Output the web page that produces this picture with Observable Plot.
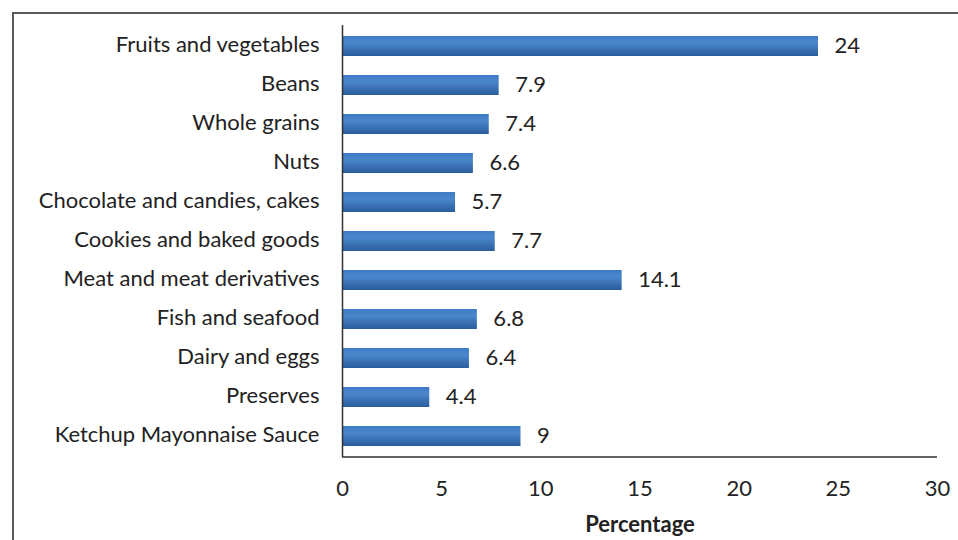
<!DOCTYPE html>
<html><head><meta charset="utf-8">
<script src="https://cdn.jsdelivr.net/npm/d3@7"></script>
<script src="https://cdn.jsdelivr.net/npm/@observablehq/plot@0.6"></script>
<style>
html,body{margin:0;padding:0;background:#fff;overflow:hidden;width:958px;height:540px;}
#wrap{position:relative;width:958px;height:540px;}
#border{position:absolute;left:12px;top:12px;width:1000px;height:600px;border:2px solid #5a5a5a;box-sizing:border-box;}
#chart{position:absolute;left:0;top:0;}
</style></head>
<body><div id="wrap"><div id="border"></div><div id="chart"></div></div>
<script>
const categories = ["Fruits and vegetables","Beans","Whole grains","Nuts","Chocolate and candies, cakes","Cookies and baked goods","Meat and meat derivatives","Fish and seafood","Dairy and eggs","Preserves","Ketchup Mayonnaise Sauce"];
const values = [24,7.9,7.4,6.6,5.7,7.7,14.1,6.8,6.4,4.4,9];
const xTicks = [0,5,10,15,20,25,30];
const xLabel = "Percentage";

const data = categories.map((c,i)=>({category:c, value:values[i]}));
const font = "Lato, 'Open Sans', sans-serif";

const chart = Plot.plot({
  width: 958, height: 540,
  marginLeft: 342, marginRight: 21, marginTop: 25, marginBottom: 83,
  style: {fontFamily: font, fontSize: "22px", color: "#222", background: "transparent"},
  x: {domain:[0,30], ticks: xTicks, label: null},
  y: {domain: categories, paddingInner: 0.5, paddingOuter: 0.25, label: null},
  marks: [
    () => {
      const svg = d3.create("svg:defs");
      const g = svg.append("linearGradient").attr("id","barGrad").attr("x1",0).attr("y1",0).attr("x2",0).attr("y2",1);
      g.append("stop").attr("offset","0%").attr("stop-color","#3f7bc5");
      g.append("stop").attr("offset","35%").attr("stop-color","#4a86cb");
      g.append("stop").attr("offset","100%").attr("stop-color","#2a5c9c");
      return svg.node();
    },
    Plot.barX(data, {x: "value", y: "category", fill: "url(#barGrad)"}),
    Plot.text(data, {x: "value", y: "category", text: d => String(d.value), textAnchor: "start", dx: 16, dy: -1, fill: "#222", fontSize: 22}),
    Plot.axisX({ticks: xTicks, tickSize: 0, tickPadding: 23, label: null, fill: "#222", fontSize: 22}),
    Plot.axisY({tickSize: 0, tickPadding: 23, dy: -1.5, label: null, fill: "#222", fontSize: 22}),
    Plot.ruleX([0], {stroke: "#333", strokeWidth: 1.5}),
    Plot.text([xLabel], {frameAnchor: "bottom", lineAnchor: "middle", dy: 67, text: d => d, fontWeight: "bold", fontSize: 22, fill: "#222"})
  ]
});
// x-axis baseline at bottom of frame
d3.select(chart).append("line")
  .attr("x1", 342).attr("x2", 937).attr("y1", 457).attr("y2", 457)
  .attr("stroke", "#333").attr("stroke-width", 1.5);
document.getElementById("chart").appendChild(chart);
</script></body></html>
